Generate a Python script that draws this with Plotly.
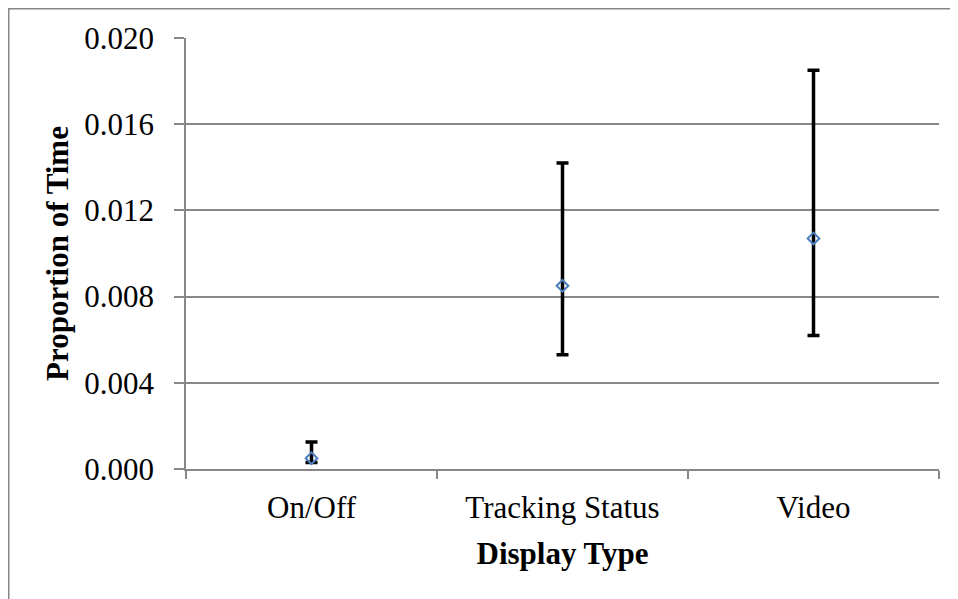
import plotly.graph_objects as go

categories = ["On/Off", "Tracking Status", "Video"]
means = [0.0005, 0.0085, 0.0107]
upper = [0.00125, 0.0142, 0.0185]
lower = [0.0003, 0.0053, 0.0062]

err_plus = [u - m for u, m in zip(upper, means)]
err_minus = [m - l for m, l in zip(means, lower)]

font = "Liberation Serif, Times New Roman, serif"
grid = "#878787"

# page body adds an 8px margin; compensate
OFF = 8
W, H = 958 - OFF, 599 - OFF
L, R, T, B = 186 - OFF, 958 - 939, 38 - OFF, 599 - 469
pw = W - L - R
ph = H - T - B

fig = go.Figure(go.Scatter(
    x=categories, y=means, mode="markers",
    marker=dict(symbol="diamond-open", size=9, color="#4A7EBB", line=dict(width=2, color="#4A7EBB")),
    error_y=dict(type="data", symmetric=False, array=err_plus, arrayminus=err_minus,
                 color="black", thickness=3.5, width=6),
    showlegend=False,
))

fig.update_layout(
    width=W, height=H,
    margin=dict(l=L, r=R, t=T, b=B, pad=0),
    paper_bgcolor="white", plot_bgcolor="white",
    font=dict(family=font, size=31, color="black"),
    xaxis=dict(
        type="category", tickson="boundaries", ticks="outside", ticklen=8, tickwidth=1.5,
        tickcolor=grid, showline=True, linecolor=grid, linewidth=1.5, showgrid=False,
        range=[-0.5, 2.5], ticklabelstandoff=10,
        title=dict(text="<b>Display Type</b>", font=dict(size=31), standoff=18),
        tickfont=dict(size=31),
    ),
    yaxis=dict(
        range=[0, 0.02], tickvals=[0, 0.004, 0.008, 0.012, 0.016, 0.02],
        ticktext=["0.000", "0.004", "0.008", "0.012", "0.016", "0.020"],
        ticks="outside", ticklen=10, tickwidth=1.5, tickcolor=grid,
        showline=True, linecolor=grid, linewidth=1.5, ticklabelstandoff=14,
        showgrid=True, gridcolor=grid, gridwidth=1.5, zeroline=False,
        title=dict(text="<b>Proportion of Time</b>", font=dict(size=31), standoff=6),
        tickfont=dict(size=31),
    ),
    shapes=[dict(type="rect", xref="paper", yref="paper",
                 x0=(0.75 - L) / pw, x1=1.2, y0=-0.6, y1=1 + (T - 0.75) / ph,
                 line=dict(color=grid, width=1.5), layer="below")],
)

fig.write_html("out.html")
